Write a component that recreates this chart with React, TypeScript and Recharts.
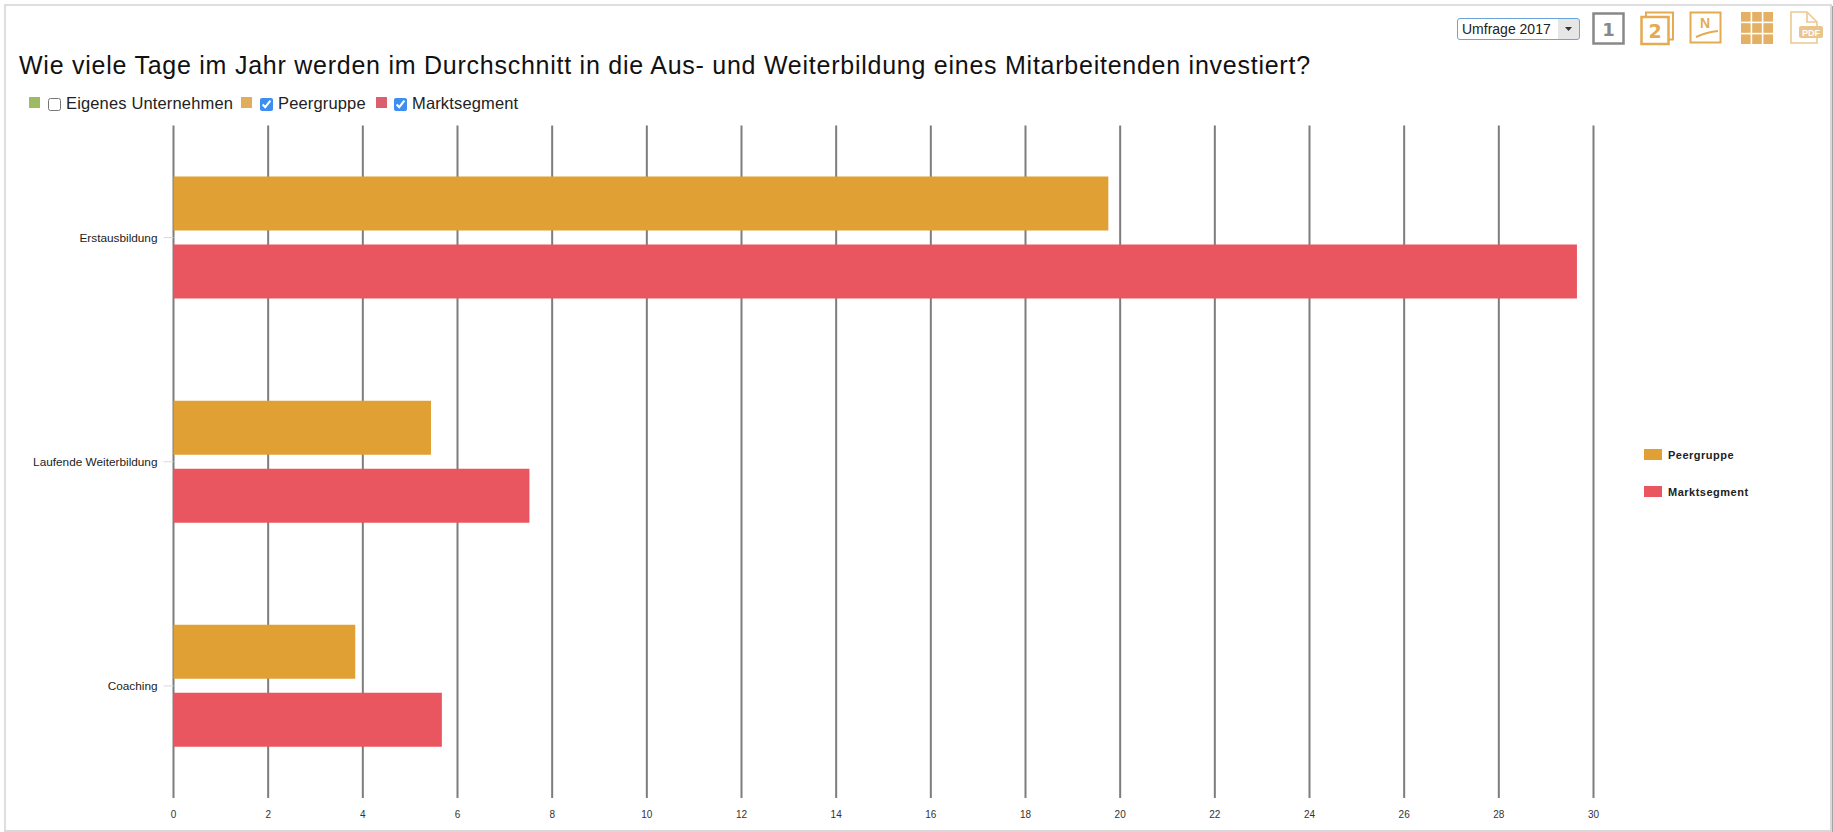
import React from "react";
import { BarChart, Bar, XAxis, YAxis, CartesianGrid, Legend } from "recharts";

const categories = ["Erstausbildung", "Laufende Weiterbildung", "Coaching"];
const peergruppe = [19.75, 5.44, 3.84];
const marktsegment = [29.65, 7.52, 5.67];
const xTicks = [0, 2, 4, 6, 8, 10, 12, 14, 16, 18, 20, 22, 24, 26, 28, 30];
const titleText = "Wie viele Tage im Jahr werden im Durchschnitt in die Aus- und Weiterbildung eines Mitarbeitenden investiert?";
const topLegend = [
  { label: "Eigenes Unternehmen", color: "#9cbb62", checked: false, sq: 29, cb: 48, tx: 66 },
  { label: "Peergruppe", color: "#e0ad5c", checked: true, sq: 241, cb: 260, tx: 278 },
  { label: "Marktsegment", color: "#d9606c", checked: true, sq: 376, cb: 394, tx: 412 },
];
const rows = categories.map((name, i) => ({ name, peergruppe: peergruppe[i], marktsegment: marktsegment[i] }));
const font = "'Liberation Sans', Arial, sans-serif";
const ORANGE = "#e0a033";
const RED = "#ea5660";
const ICON = "#e5ab50";

const Abs = ({ l, t, children }: any) => <div style={{ position: "absolute", left: l, top: t, lineHeight: 0 }}>{children}</div>;

const Icons = () => (
  <>
    <Abs l={1592} t={12}>
      <svg width={34} height={33}><rect x={1.5} y={1.5} width={30} height={30} fill="#fff" stroke="#888" strokeWidth={2.5} />
        <text x={16.5} y={24} textAnchor="middle" fontFamily="'DejaVu Sans'" fontWeight={700} fontSize={18} fill="#888">1</text></svg>
    </Abs>
    <Abs l={1640} t={11}>
      <svg width={35} height={35}><rect x={6} y={1.5} width={27} height={27} fill="#fff" stroke={ICON} strokeWidth={2} />
        <rect x={1.5} y={6} width={27} height={27} fill="#fff" stroke={ICON} strokeWidth={2.5} />
        <text x={15} y={27} textAnchor="middle" fontFamily="'DejaVu Sans'" fontWeight={700} fontSize={19} fill={ICON}>2</text></svg>
    </Abs>
    <Abs l={1689} t={11}>
      <svg width={35} height={34}><rect x={1.5} y={1.5} width={30} height={30} fill="#fff" stroke={ICON} strokeWidth={2} />
        <text x={16} y={17} textAnchor="middle" fontFamily={font} fontWeight={700} fontSize={14} fill={ICON}>N</text>
        <path d="M7 26 Q18 21 29 20" fill="none" stroke={ICON} strokeWidth={2} /></svg>
    </Abs>
    <Abs l={1740} t={11}>
      <svg width={34} height={34} fill="#e3b064">
        {[0, 1, 2].flatMap((r) => [0, 1, 2].map((c) => <rect key={`${r}${c}`} x={1 + c * 11.2} y={1 + r * 11.2} width={9.6} height={9.6} />))}
      </svg>
    </Abs>
    <Abs l={1790} t={11}>
      <svg width={36} height={34}><path d="M1 1H17L27 11V32H1Z" fill="#fff" stroke="#eec88f" strokeWidth={1.6} /><path d="M17 1V11H27" fill="none" stroke="#eec88f" strokeWidth={1.6} />
        <rect x={9} y={15} width={24} height={12} rx={2} fill="#e9c48c" />
        <text x={21} y={25} textAnchor="middle" fontFamily={font} fontWeight={700} fontSize={9} fill="#fff">PDF</text></svg>
    </Abs>
  </>
);

export default function App() {
  return (
    <div style={{ position: "absolute", left: 0, top: 0, width: 1833, height: 832, background: "#fff", overflow: "hidden", fontFamily: font }}>
      <div style={{ position: "absolute", left: 4, top: 4, width: 1824, height: 824, borderTop: "2px solid #dedede", borderLeft: "2px solid #dedede", borderRight: "2px solid #d8d8d8", borderBottom: "2px solid #d8d8d8", boxShadow: "3px 2px 0 #a4a4a4", background: "#fff" }} />
      <select defaultValue="2017" style={{ position: "absolute", left: 1457, top: 18, width: 123, height: 22, fontFamily: font, fontSize: 14, border: "1px solid #6aa5dc", borderRadius: 3, color: "#222", padding: "0 0 0 4px", appearance: "none", background: "linear-gradient(to right, #fff 100px, #e6e6e6 100px)" }}>
        <option value="2017">Umfrage 2017</option>
      </select>
      <svg width={8} height={5} style={{ position: "absolute", left: 1565, top: 27 }}><path d="M0 0H7L3.5 4Z" fill="#333" /></svg>
      <Icons />
      <div style={{ position: "absolute", left: 19, top: 51, fontSize: 25, letterSpacing: 0.75, color: "#111", whiteSpace: "nowrap" }}>{titleText}</div>
      {topLegend.map((e) => (
        <React.Fragment key={e.label}>
          <div style={{ position: "absolute", left: e.sq, top: 97, width: 11, height: 11, background: e.color }} />
          <input type="checkbox" readOnly checked={e.checked} style={{ position: "absolute", left: e.cb, top: 98, width: 13, height: 13, margin: 0, accentColor: "#3d8ef0" }} />
          <div style={{ position: "absolute", left: e.tx, top: 94, fontSize: 16.5, letterSpacing: 0.15, color: "#222", whiteSpace: "nowrap" }}>{e.label}</div>
        </React.Fragment>
      ))}
      <div style={{ position: "absolute", left: 0, top: 0 }}>
        <BarChart width={1833} height={832} data={rows} layout="vertical" barSize={54} barGap={14}
          margin={{ top: 125.5, right: 79.5, bottom: 0, left: 0.5 }}>
          <CartesianGrid vertical horizontal={false} stroke="#7d7d7d" strokeWidth={2} />
          <XAxis type="number" domain={[0, 30]} ticks={xTicks} interval={0} axisLine={false} tickLine={false}
            height={34} tick={{ fontSize: 10, fill: "#333", fontFamily: font }} tickMargin={7} />
          <YAxis type="category" dataKey="name" width={173} axisLine={false} tickSize={10} tickMargin={6} interval={0}
            tickLine={{ stroke: "#d5dbe3" }} tick={{ fontSize: 11.8, fill: "#222", fontFamily: font }} />
          <Legend layout="vertical" align="right" verticalAlign="top" iconType="rect"
            wrapperStyle={{ left: 1644, top: 436, width: 160 }}
            content={() => (
              <div>
                {[{ n: "Peergruppe", c: ORANGE }, { n: "Marktsegment", c: RED }].map((x) => (
                  <div key={x.n} style={{ display: "flex", alignItems: "center", height: 37, fontSize: 11, letterSpacing: 0.5, fontWeight: 700, color: "#222" }}>
                    <span style={{ width: 18, height: 11, background: x.c, marginRight: 6, display: "inline-block" }} />{x.n}
                  </div>
                ))}
              </div>
            )} />
          <Bar dataKey="peergruppe" name="Peergruppe" fill={ORANGE} isAnimationActive={false} />
          <Bar dataKey="marktsegment" name="Marktsegment" fill={RED} isAnimationActive={false} />
        </BarChart>
      </div>
    </div>
  );
}
